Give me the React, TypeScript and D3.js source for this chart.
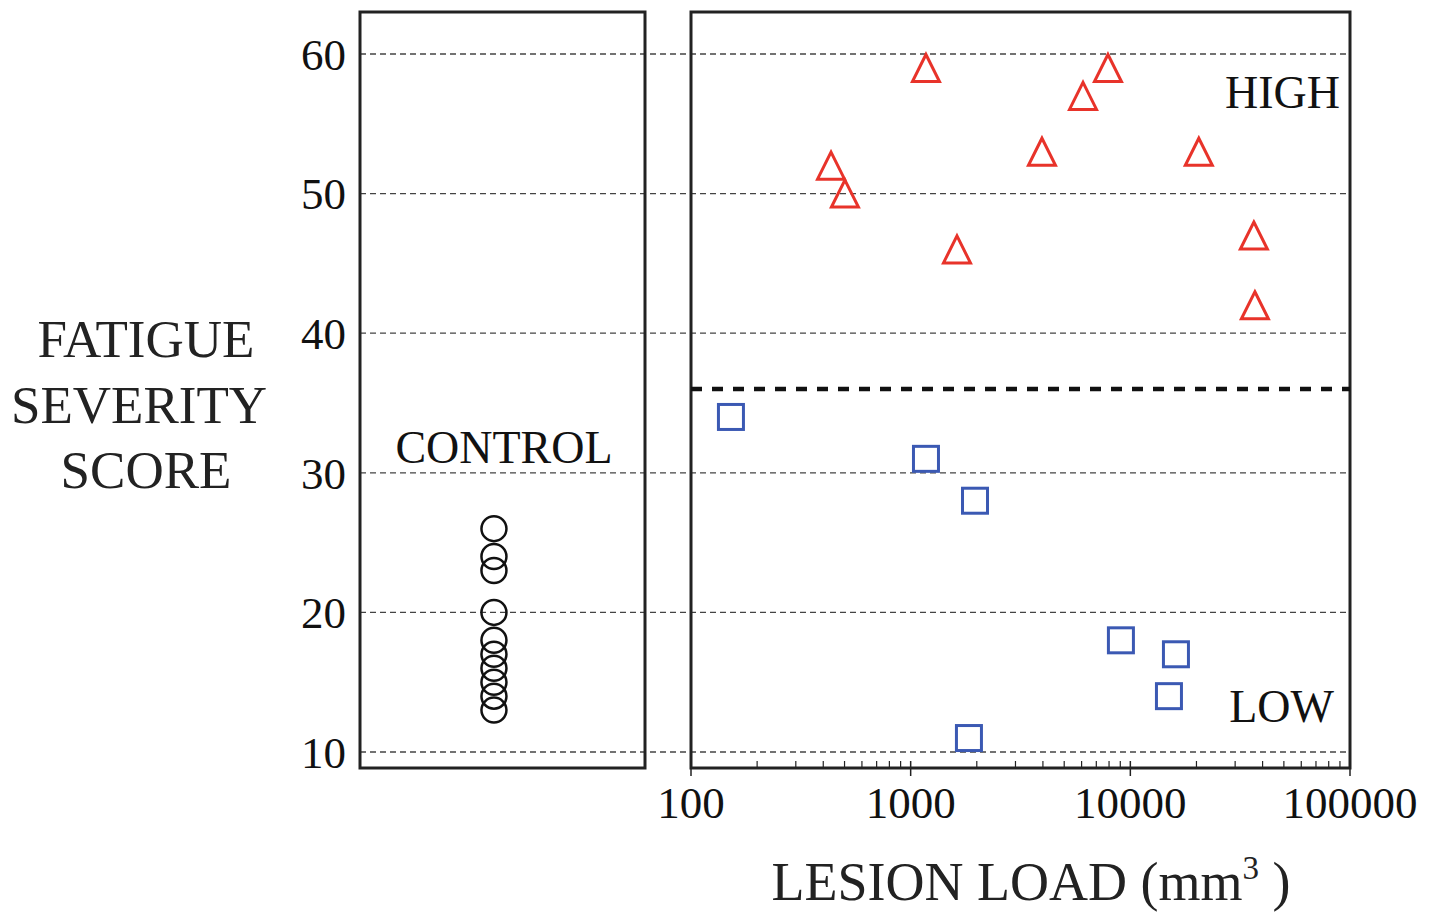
import { useMemo } from 'react'
import * as d3 from 'd3'

// Control group fatigue scores (no lesion load)
const controlScores = [26, 24, 23, 20, 18, 17, 16, 15, 14, 13]

// High fatigue group: lesion load (mm3) and score
const highLoad = [434, 502, 1174, 1625, 3960, 6090, 7910, 20500, 36500, 36900]
const highScore = [52, 50, 59, 46, 53, 57, 59, 53, 47, 42]

// Low fatigue group
const lowLoad = [152, 1174, 1963, 9060, 16130, 14990, 1842]
const lowScore = [34, 31, 28, 18, 17, 14, 11]

const yTicks = [10, 20, 30, 40, 50, 60]
const xTicks = [100, 1000, 10000, 100000]
const cutoff = 36

const W = 1437
const H = 915
const FONT = '"Liberation Serif", "Times New Roman", serif'

export default function App() {
  const top = 12
  const bottom = 768
  const leftPanel = { x0: 360, x1: 645 }
  const rightPanel = { x0: 691, x1: 1350 }

  const y = d3.scaleLinear().domain([10, 60]).range([752, 54])
  const x = d3.scaleLog().domain([100, 100000]).range([rightPanel.x0, rightPanel.x1])
  // horizontal position inside the control panel
  const cx = d3.scaleLinear().domain([0, 1]).range([leftPanel.x0, leftPanel.x1])

  const minorTicks = useMemo(() => {
    const out: number[] = []
    for (let dec = 100; dec < 100000; dec *= 10) {
      for (let k = 2; k <= 9; k++) out.push(dec * k)
    }
    return out
  }, [])

  const tri = (px: number, py: number) => {
    const s = 13.5
    return `M${px},${py - s}L${px + s},${py + s}L${px - s},${py + s}Z`
  }

  return (
    <svg width={W} height={H} style={{ position: 'absolute', left: 0, top: 0, background: '#fff' }}>
      {/* gridlines across both panels */}
      {yTicks.map(t => (
        <line key={'g' + t} x1={leftPanel.x0} x2={rightPanel.x1} y1={y(t)} y2={y(t)}
          stroke="#444" strokeWidth={1.3} strokeDasharray="6,4" />
      ))}

      {/* y tick labels */}
      {yTicks.map(t => (
        <text key={'yl' + t} x={346} y={y(t)} dy="0.35em" textAnchor="end"
          fontFamily={FONT} fontSize={45} fill="#111">{t}</text>
      ))}

      {/* y title */}
      <g fontFamily={FONT} fontSize={53} fill="#222" textAnchor="middle">
        <text x={146} y={357}>FATIGUE</text>
        <text x={139} y={423}>SEVERITY</text>
        <text x={146} y={488}>SCORE</text>
      </g>

      {/* panel frames */}
      <rect x={leftPanel.x0} y={top} width={leftPanel.x1 - leftPanel.x0} height={bottom - top}
        fill="none" stroke="#222" strokeWidth={3} />
      <rect x={rightPanel.x0} y={top} width={rightPanel.x1 - rightPanel.x0} height={bottom - top}
        fill="none" stroke="#222" strokeWidth={3} />

      {/* control group */}
      <text x={504} y={463} textAnchor="middle" fontFamily={FONT} fontSize={46} fill="#111">CONTROL</text>
      {controlScores.map((s, i) => (
        <circle key={'c' + i} cx={cx(0.47)} cy={y(s)} r={12.5} fill="none" stroke="#111" strokeWidth={2.5} />
      ))}

      {/* cutoff */}
      <line x1={rightPanel.x0} x2={rightPanel.x1} y1={y(cutoff)} y2={y(cutoff)}
        stroke="#111" strokeWidth={4.5} strokeDasharray="11,10" />

      {/* high group */}
      {highLoad.map((v, i) => (
        <path key={'h' + i} d={tri(x(v), y(highScore[i]))} fill="none" stroke="#e8332a" strokeWidth={3} strokeLinejoin="miter" />
      ))}

      {/* low group */}
      {lowLoad.map((v, i) => (
        <rect key={'l' + i} x={x(v) - 12.5} y={y(lowScore[i]) - 12.5} width={25} height={25}
          fill="none" stroke="#3b59b3" strokeWidth={3} />
      ))}

      <text x={1340} y={108} textAnchor="end" fontFamily={FONT} fontSize={46} fill="#111">HIGH</text>
      <text x={1334} y={722} textAnchor="end" fontFamily={FONT} fontSize={46} fill="#111">LOW</text>

      {/* x axis ticks */}
      {minorTicks.map(t => (
        <line key={'m' + t} x1={x(t)} x2={x(t)} y1={bottom - 7} y2={bottom} stroke="#222" strokeWidth={1.2} />
      ))}
      {xTicks.map(t => (
        <line key={'M' + t} x1={x(t)} x2={x(t)} y1={bottom - 7} y2={bottom + 8} stroke="#222" strokeWidth={1.5} />
      ))}
      {xTicks.map(t => (
        <text key={'xl' + t} x={x(t)} y={818} textAnchor="middle" fontFamily={FONT} fontSize={45} fill="#111">{t}</text>
      ))}

      {/* x title */}
      <text x={1031} y={900} textAnchor="middle" fontFamily={FONT} fontSize={54} fill="#222">
        LESION LOAD (mm<tspan fontSize={33} dy={-21}>3</tspan><tspan dy={21}> )</tspan>
      </text>
    </svg>
  )
}
